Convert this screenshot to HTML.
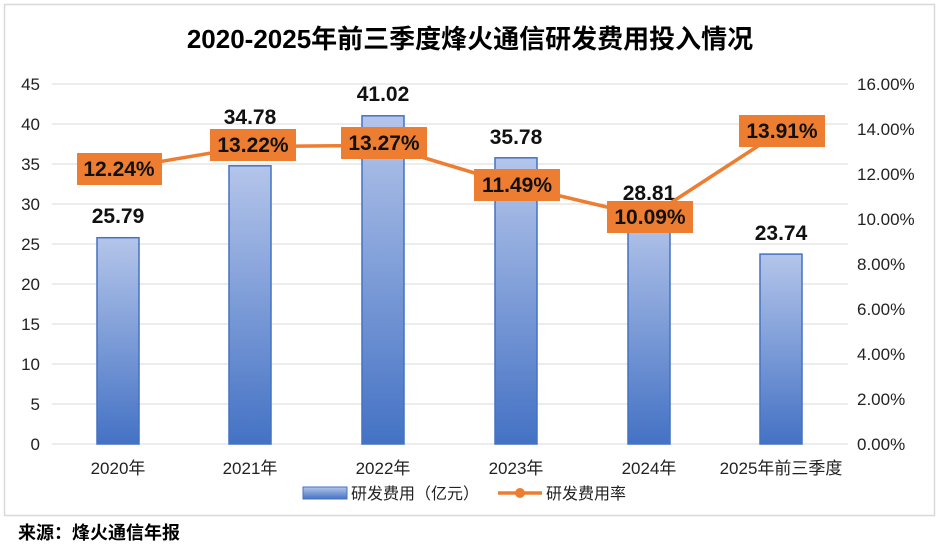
<!DOCTYPE html>
<html><head><meta charset="utf-8"><style>
body{margin:0;background:#fff;}
svg text{font-family:"Liberation Sans","Noto Sans CJK SC",sans-serif;}
</style></head><body>
<svg width="940" height="546" xmlns="http://www.w3.org/2000/svg">
<defs><linearGradient id="g" x1="0" y1="0" x2="0" y2="1">
<stop offset="0" stop-color="#b4c5ea"/><stop offset="1" stop-color="#4472c4"/></linearGradient></defs>
<rect x="4.5" y="4.5" width="930" height="511" fill="#fff" stroke="#d9d9d9" stroke-width="1.5"/>
<text x="470" y="48" font-size="26" font-weight="bold" text-anchor="middle" fill="#000">2020-2025年前三季度烽火通信研发费用投入情况</text>
<g stroke="#d9d9d9" stroke-width="1">
<line x1="52" x2="848" y1="84" y2="84"/><line x1="52" x2="848" y1="124" y2="124"/><line x1="52" x2="848" y1="164" y2="164"/><line x1="52" x2="848" y1="204" y2="204"/><line x1="52" x2="848" y1="244" y2="244"/><line x1="52" x2="848" y1="284" y2="284"/><line x1="52" x2="848" y1="324" y2="324"/><line x1="52" x2="848" y1="364" y2="364"/><line x1="52" x2="848" y1="404" y2="404"/><line x1="52" x2="848" y1="444" y2="444"/>
</g>
<g font-size="17" fill="#222" text-anchor="end">
<text x="40" y="90">45</text><text x="40" y="130">40</text><text x="40" y="170">35</text><text x="40" y="210">30</text><text x="40" y="250">25</text><text x="40" y="290">20</text><text x="40" y="330">15</text><text x="40" y="370">10</text><text x="40" y="410">5</text><text x="40" y="450">0</text>
</g>
<g font-size="17" fill="#222" text-anchor="start">
<text x="857" y="90">16.00%</text><text x="857" y="135">14.00%</text><text x="857" y="180">12.00%</text><text x="857" y="225">10.00%</text><text x="857" y="270">8.00%</text><text x="857" y="315">6.00%</text><text x="857" y="360">4.00%</text><text x="857" y="405">2.00%</text><text x="857" y="450">0.00%</text>
</g>
<g fill="url(#g)" stroke="#4472c4" stroke-width="1.5">
<rect x="97" y="237.7" width="42" height="206.3"/>
<rect x="229" y="165.8" width="42" height="278.2"/>
<rect x="362" y="115.8" width="42" height="328.2"/>
<rect x="495" y="157.8" width="42" height="286.2"/>
<rect x="628" y="213.5" width="42" height="230.5"/>
<rect x="760" y="254.1" width="42" height="189.9"/>
</g>
<g font-size="21" font-weight="bold" fill="#111" text-anchor="middle">
<text x="118" y="223">25.79</text><text x="250" y="124">34.78</text><text x="383" y="101">41.02</text><text x="516" y="144">35.78</text><text x="649" y="200">28.81</text><text x="781" y="240">23.74</text>
</g>
<polyline points="118,168.6 250,146.5 383,145.4 516,185.5 649,217 781,131" fill="none" stroke="#ed7d31" stroke-width="3.5"/>
<g fill="#ed7d31">
<rect x="77" y="153" width="85" height="32"/><rect x="210" y="129" width="86" height="32"/><rect x="341" y="127" width="86" height="32"/><rect x="474" y="169" width="86" height="32"/><rect x="607" y="201" width="86" height="32"/><rect x="739" y="115" width="86" height="32"/>
</g>
<g font-size="21" font-weight="bold" fill="#111" text-anchor="middle">
<text x="119" y="176">12.24%</text><text x="253" y="152">13.22%</text><text x="384" y="150">13.27%</text><text x="517" y="192">11.49%</text><text x="650" y="224">10.09%</text><text x="782" y="138">13.91%</text>
</g>
<g font-size="17" fill="#222" text-anchor="middle">
<text x="118" y="474">2020年</text><text x="250" y="474">2021年</text><text x="383" y="474">2022年</text><text x="516" y="474">2023年</text><text x="649" y="474">2024年</text><text x="781" y="474">2025年前三季度</text>
</g>
<rect x="303" y="487" width="44" height="12" fill="url(#g)" stroke="#4472c4"/>
<text x="351" y="499" font-size="16" fill="#222">研发费用（亿元）</text>
<line x1="498" x2="542" y1="493" y2="493" stroke="#ed7d31" stroke-width="3.5"/>
<circle cx="520" cy="493" r="5" fill="#ed7d31"/>
<text x="546" y="499" font-size="16" fill="#222">研发费用率</text>
<text x="18" y="539" font-size="18" font-weight="bold" fill="#000">来源：烽火通信年报</text>
</svg>
</body></html>
